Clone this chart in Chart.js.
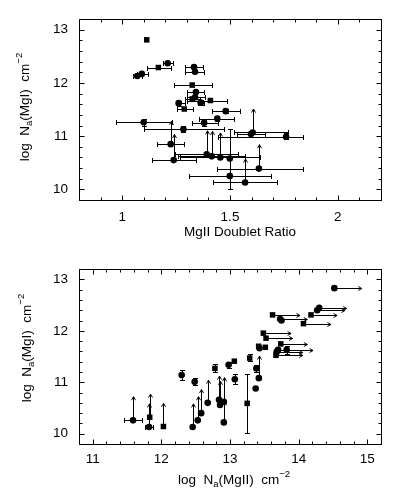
<!DOCTYPE html>
<html>
<head>
<meta charset="utf-8">
<script src="https://cdn.jsdelivr.net/npm/chart.js@4"></script>
<style>
html, body { margin: 0; padding: 0; background: #fff; }
#wrap { position: relative; width: 395px; height: 499px; }
canvas { position: absolute; left: 0; }
#ratioChart { top: 0; }
#columnChart { top: 250px; }
</style>
</head>
<body>
<div id="wrap">
    <canvas id="ratioChart" width="395" height="250"></canvas>
    <canvas id="columnChart" width="395" height="249"></canvas>
</div>
<script>
// row layout: [x, y, xLow, xHigh, yLow, yHigh, upTo, rightTo]
const ratioCircles = [
    [1.070, 12.13, 1.052, 1.091],
    [1.091, 12.17, 1.070, 1.121],
    [1.211, 12.37, 1.188, 1.237],
    [1.333, 12.30, 1.293, 1.373, 12.26, 12.34],
    [1.338, 12.21, 1.293, 1.380],
    [1.342, 11.83, 1.302, 1.380],
    [1.338, 11.73, 1.300, 1.385],
    [1.364, 11.63, 1.350, 1.380, 11.58, 11.68],
    [1.262, 11.62, 1.250, 1.290, 11.57, 11.67],
    [1.480, 11.47, 1.415, 1.546, 11.43, 11.51],
    [1.441, 11.33, 1.358, 1.520, 11.28, 11.38],
    [1.380, 11.25, 1.322, 1.443, 11.20, 11.30],
    [1.100, 11.26, 0.972, 1.230, 11.20, 11.32],
    [1.284, 11.13, 1.100, 1.470, 11.07, 11.19],
    [1.225, 10.85, 1.163, 1.288, null, null, 11.28],
    [1.239, 10.55, 1.137, 1.342, null, null, 11.03],
    [1.392, 10.66, 1.245, 1.539, null, null, 11.10],
    [1.415, 10.62, 1.260, 1.570, null, null, 11.09],
    [1.455, 10.60, 1.268, 1.639, null, null, 11.06],
    [1.499, 10.58, null, null, 10.58, 11.14],
    [1.499, 10.25, 1.311, 1.689, 10.01, 10.58],
    [1.570, 10.13, 1.420, 1.719, null, null, 10.57],
    [1.634, 10.39, 1.438, 1.837, null, null, 10.84],
    [1.597, 11.04, 1.531, 1.662, 10.99, 11.10],
    [1.605, 11.07, 1.520, 1.770, null, null, 11.51],
    [1.760, 10.99, 1.446, 1.840, 10.94, 11.05]
];
const ratioSquares = [
    [1.114, 12.81],
    [1.168, 12.29, 1.114, 1.225],
    [1.325, 11.96, 1.239, 1.415],
    [1.409, 11.67, 1.302, 1.488],
    [1.288, 11.51, 1.253, 1.330],
    [1.325, 11.70, 1.290, 1.360]
];
const columnCircles = [
    [11.587, 10.26, 11.456, 11.723, null, null, 10.72],
    [11.820, 10.13, 11.757, 11.878, null, null, 10.58],
    [12.456, 10.13, null, null, null, null, 10.58],
    [12.530, 10.26, null, null, null, null, 10.72],
    [12.580, 10.40, null, null, null, null, 10.86],
    [12.675, 10.60, null, null, null, null, 11.04],
    [12.840, 10.66, null, null, null, null, 11.12],
    [12.855, 10.56, null, null, null, null, 11.02],
    [12.910, 10.62, null, null, null, null, 11.09],
    [12.910, 10.22, null, null, null, null, 10.62],
    [12.296, 11.14, null, null, 11.05, 11.23],
    [12.485, 11.01, null, null, 10.94, 11.08],
    [12.980, 11.34, null, null, 11.28, 11.40],
    [13.070, 11.06, null, null, 10.96, 11.17],
    [13.374, 10.88],
    [13.384, 11.27, null, null, 11.20, 11.34],
    [13.420, 11.08, null, null, null, null, 11.51],
    [13.430, 11.66],
    [13.700, 11.63, null, null, null, null, null, 14.21],
    [13.826, 11.63, null, null, 11.55, 11.71],
    [13.680, 11.59, null, null, null, null, null, 14.06],
    [14.520, 12.83, null, null, null, null, null, 14.92],
    [14.300, 12.45, null, null, null, null, null, 14.70],
    [14.270, 12.40, null, null, null, null, null, 14.675],
    [13.730, 12.23, null, null, null, null, null, 14.127],
    [13.750, 12.20]
];
const columnSquares = [
    [11.830, 10.32, null, null, null, null, 10.77],
    [12.030, 10.14, null, null, null, null, 10.59],
    [12.780, 11.27, null, null, 11.19, 11.35],
    [13.063, 11.41],
    [13.250, 10.59, null, null, 10.02, 11.155],
    [13.287, 11.47, null, null, 11.42, 11.54],
    [13.418, 11.70],
    [13.515, 11.68],
    [13.486, 11.955, null, null, null, null, null, 13.89],
    [13.525, 11.857, null, null, null, null, null, 13.913],
    [13.740, 11.746, null, null, null, null, null, 14.127],
    [13.670, 11.524, null, null, null, null, null, 14.06],
    [13.620, 12.31, null, null, null, null, null, 14.02],
    [14.180, 12.31, null, null, null, null, null, 14.56],
    [14.070, 12.14, null, null, null, null, null, 14.47]
];

const ratioXTicks = [1, 1.5, 2];
const columnXTicks = [11, 12, 13, 14, 15];
const nTicks = [10, 11, 12, 13];

const ratioXTitle = [['MgII Doublet Ratio', 0]];
const mgiTitle = [['log  N', 0], ['a', -1], ['(MgI)  cm', 0], ['\u22122', 1]];
const mgiiTitle = [['log  N', 0], ['a', -1], ['(MgII)  cm', 0], ['\u22122', 1]];

const FONT = '"Liberation Sans", Arial, sans-serif';
const chartCfg = {};

function snap(v) {
    return Math.round(v) + 0.5;
}

function line(ctx, x1, y1, x2, y2) {
    ctx.beginPath();
    ctx.moveTo(x1, y1);
    ctx.lineTo(x2, y2);
    ctx.stroke();
}

function drawRich(ctx, parts, cx, cy, angle) {
    ctx.save();
    ctx.translate(cx, cy);
    ctx.rotate(angle);
    ctx.fillStyle = '#000';
    ctx.textBaseline = 'alphabetic';
    let total = 0;
    const widths = parts.map(p => {
        ctx.font = (p[1] === 0 ? 13.5 : 9.5) + 'px ' + FONT;
        const w = ctx.measureText(p[0]).width;
        total += w;
        return w;
    });
    let x = -total / 2;
    parts.forEach((p, i) => {
        ctx.font = (p[1] === 0 ? 13.5 : 9.5) + 'px ' + FONT;
        const dy = p[1] === -1 ? 3 : (p[1] === 1 ? -7 : 0);
        ctx.fillText(p[0], x, 5 + dy);
        x += widths[i];
    });
    ctx.restore();
}

const framePlugin = {
    id: 'frame',
    beforeDatasetsDraw(chart) {
        const { ctx, scales: { x, y } } = chart;
        ctx.save();
        ctx.strokeStyle = '#000';
        ctx.lineWidth = 1;
        const cap = 2.5;
        chart.data.datasets.forEach(ds => {
            ds.rows.forEach(r => {
                const px = snap(x.getPixelForValue(r[0]));
                const py = snap(y.getPixelForValue(r[1]));
                if (r[2] != null) {
                    const a = snap(x.getPixelForValue(r[2]));
                    const b = snap(x.getPixelForValue(r[3]));
                    line(ctx, a, py, b, py);
                    line(ctx, a, py - cap, a, py + cap);
                    line(ctx, b, py - cap, b, py + cap);
                }
                if (r[4] != null) {
                    const a = snap(y.getPixelForValue(r[4]));
                    const b = snap(y.getPixelForValue(r[5]));
                    line(ctx, px, a, px, b);
                    line(ctx, px - cap, a, px + cap, a);
                    line(ctx, px - cap, b, px + cap, b);
                }
                if (r[6] != null) {
                    const t = y.getPixelForValue(r[6]);
                    line(ctx, px, py, px, t);
                    ctx.beginPath();
                    ctx.moveTo(px - 2, t + 3.5);
                    ctx.lineTo(px, t);
                    ctx.lineTo(px + 2, t + 3.5);
                    ctx.stroke();
                }
                if (r[7] != null) {
                    const t = x.getPixelForValue(r[7]);
                    line(ctx, px, py, t, py);
                    ctx.beginPath();
                    ctx.moveTo(t - 3.5, py - 2);
                    ctx.lineTo(t, py);
                    ctx.lineTo(t - 3.5, py + 2);
                    ctx.stroke();
                }
            });
        });
        ctx.restore();
    },
    afterDraw(chart) {
        const cfg = chartCfg[chart.canvas.id];
        const { ctx, chartArea: area, scales: { x, y } } = chart;
        ctx.save();
        ctx.strokeStyle = '#000';
        ctx.lineWidth = 1;
        const L = snap(area.left), R = snap(area.right), T = snap(area.top), B = snap(area.bottom);
        ctx.strokeRect(L, T, R - L, B - T);

        const isMajor = (v, majors) => majors.some(m => Math.abs(m - v) < 1e-6);
        const n0 = Math.ceil(x.min / cfg.xMinor - 1e-6), n1 = Math.floor(x.max / cfg.xMinor + 1e-6);
        for (let n = n0; n <= n1; n++) {
            const v = n * cfg.xMinor;
            const p = snap(x.getPixelForValue(v));
            const len = isMajor(v, cfg.xTicks) ? 5 : 3;
            line(ctx, p, B, p, B - len);
            line(ctx, p, T, p, T + len);
        }
        const m0 = Math.ceil(y.min / cfg.yMinor - 1e-6), m1 = Math.floor(y.max / cfg.yMinor + 1e-6);
        for (let n = m0; n <= m1; n++) {
            const v = n * cfg.yMinor;
            const p = snap(y.getPixelForValue(v));
            const len = isMajor(v, nTicks) ? 5 : 3;
            line(ctx, L, p, L + len, p);
            line(ctx, R, p, R - len, p);
        }
        ctx.restore();

        drawRich(ctx, cfg.xTitle, cfg.xTitlePos[0], cfg.xTitlePos[1], 0);
        drawRich(ctx, cfg.yTitle, cfg.yTitlePos[0], cfg.yTitlePos[1], -Math.PI / 2);
    }
};

function makeChart(id, cfg) {
    chartCfg[id] = cfg;
    const tickFont = { family: FONT, size: 13.5 };
    return new Chart(document.getElementById(id), {
        type: 'scatter',
        data: {
            datasets: cfg.series.map(s => ({
                data: s.rows.map(r => ({ x: r[0], y: r[1] })),
                rows: s.rows,
                pointStyle: s.style,
                pointRadius: s.style === 'rect' ? 3.9 : 3.3,
                backgroundColor: '#000',
                borderColor: '#000',
                borderWidth: 0
            }))
        },
        options: {
            responsive: false,
            animation: false,
            events: [],
            layout: { padding: { left: 0, right: 14, top: cfg.padTop, bottom: 0 } },
            plugins: { legend: { display: false }, tooltip: { enabled: false } },
            scales: {
                x: {
                    type: 'linear',
                    min: cfg.xMin,
                    max: cfg.xMax,
                    afterBuildTicks: s => { s.ticks = cfg.xTicks.map(v => ({ value: v })); },
                    afterFit: s => { s.height = cfg.xAxisHeight; },
                    grid: { display: false, drawTicks: false },
                    border: { display: false },
                    ticks: { font: tickFont, color: '#000', padding: cfg.xLabelPad, maxRotation: 0, autoSkip: false, callback: v => String(v) }
                },
                y: {
                    type: 'linear',
                    min: 9.8,
                    max: 13.2,
                    afterBuildTicks: s => { s.ticks = nTicks.map(v => ({ value: v })); },
                    afterFit: s => { s.width = 79; },
                    grid: { display: false, drawTicks: false },
                    border: { display: false },
                    ticks: { font: tickFont, color: '#000', padding: 11, callback: v => String(v) }
                }
            }
        },
        plugins: [framePlugin]
    });
}

makeChart('ratioChart', {
    series: [{ rows: ratioCircles, style: 'circle' }, { rows: ratioSquares, style: 'rect' }],
    xMin: 0.8, xMax: 2.2, xTicks: ratioXTicks, xMinor: 0.1, yMinor: 0.2,
    padTop: 15, xAxisHeight: 50, xLabelPad: 9,
    xTitle: ratioXTitle, xTitlePos: [240, 231],
    yTitle: mgiTitle, yTitlePos: [24, 107]
});

makeChart('columnChart', {
    series: [{ rows: columnCircles, style: 'circle' }, { rows: columnSquares, style: 'rect' }],
    xMin: 10.8, xMax: 15.2, xTicks: columnXTicks, xMinor: 0.2, yMinor: 0.2,
    padTop: 10, xAxisHeight: 55, xLabelPad: 7,
    xTitle: mgiiTitle, xTitlePos: [234, 229],
    yTitle: mgiTitle, yTitlePos: [26, 98]
});
</script>
</body>
</html>
